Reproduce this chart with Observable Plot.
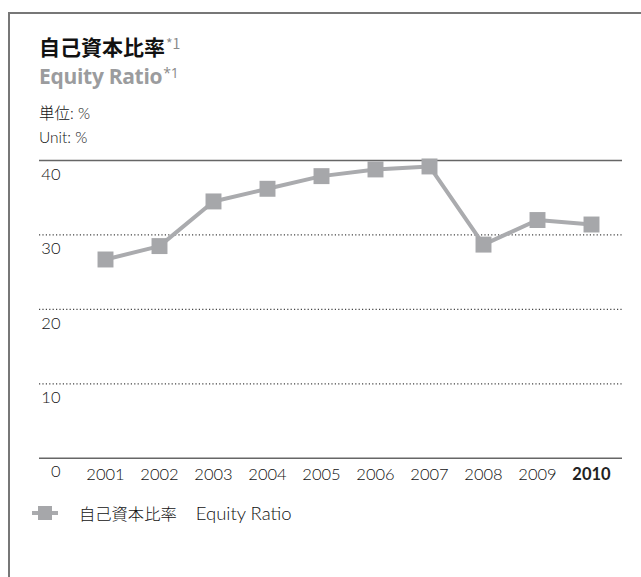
<!DOCTYPE html>
<html>
<head>
<meta charset="utf-8">
<script src="https://cdn.jsdelivr.net/npm/d3@7"></script>
<script src="https://cdn.jsdelivr.net/npm/@observablehq/plot@0.6"></script>
<style>
  html, body { margin: 0; padding: 0; background: #fff; }
  body { width: 641px; height: 577px; position: relative; overflow: hidden;
         font-family: "Lato", "Noto Sans CJK JP", sans-serif; color: #222; }
  .frame { position: absolute; left: 8px; top: 12px; right: 0; bottom: 0;
           border-left: 2px solid #777; border-top: 2px solid #777; }
  .abs { position: absolute; white-space: nowrap; }
  .t1 { left: 39px; top: 29px; font-size: 21px; font-weight: bold; color: #111; line-height: 28px;
        font-family: "Noto Sans CJK JP", sans-serif; }
  .t2 { left: 39px; top: 59px; font-size: 21px; font-weight: bold; color: #9b9c9e; line-height: 28px;
        font-family: "Open Sans", sans-serif; letter-spacing: -0.3px; }
  .sup { font-size: 14px; font-weight: normal; color: #8a8a8a; vertical-align: 6px; margin-left: 1px; }
  .u { left: 39px; font-size: 15.5px; color: #111; line-height: 20px; font-weight: 300;
       font-family: "Lato", "Noto Sans CJK JP", sans-serif; }
  .leg { left: 32px; top: 501px; height: 24px; color: #111; line-height: 24px; font-weight: 300; }
</style>
</head>
<body>
<div class="frame"></div>
<div class="abs t1">自己資本比率<span class="sup">*1</span></div>
<div class="abs t2">Equity Ratio<span class="sup">*1</span></div>
<div class="abs u" style="top:103px">単位: %</div>
<div class="abs u" style="top:127px">Unit: %</div>
<div class="abs leg" id="legend"></div>
<div id="chart"></div>
<script>
const years = [2001, 2002, 2003, 2004, 2005, 2006, 2007, 2008, 2009, 2010];
const equityRatio = [26.7, 28.5, 34.5, 36.2, 37.9, 38.8, 39.2, 28.7, 32.0, 31.4];
const yTicks = [0, 10, 20, 30, 40];
const seriesNameJa = "自己資本比率";
const seriesNameEn = "Equity Ratio";

const data = years.map((y, i) => ({year: y, value: equityRatio[i]}));
const lineColor = "#aaabae";
const markColor = "#a6a7aa";

const plot = Plot.plot({
  width: 641,
  height: 345,
  marginLeft: 39,
  marginRight: 19,
  marginTop: 10,
  marginBottom: 37,
  style: {fontFamily: "Lato, 'Open Sans', sans-serif", fontSize: "16.5px", fontWeight: 300, color: "#111", background: "transparent", overflow: "visible"},
  x: {type: "point", domain: years, range: [101.7, 594], padding: 0, align: 0.5},
  y: {domain: [0, 40], range: [307.7, 10]},
  marks: [
    Plot.ruleY([10, 20, 30], {stroke: "#444", strokeWidth: 1.2, strokeDasharray: "1.2,2.2"}),
    Plot.ruleY([0, 40], {stroke: "#666", strokeWidth: 1.5}),
    Plot.axisY(yTicks, {anchor: "left", tickSize: 0, tickPadding: 0, dx: 21, dy: 14, textAnchor: "end", fill: "#111", fontSize: 16.5, label: null}),
    Plot.axisX(years.slice(0, -1), {anchor: "bottom", tickSize: 0, tickPadding: 10, fill: "#111", fontSize: 16.5, label: null, tickFormat: d => String(d)}),
    Plot.axisX(years.slice(-1), {anchor: "bottom", tickSize: 0, tickPadding: 10, fill: "#222", fontSize: 16.5, fontWeight: "bold", label: null, tickFormat: d => String(d)}),
    Plot.line(data, {x: "year", y: "value", stroke: lineColor, strokeWidth: 4}),
    Plot.dot(data, {x: "year", y: "value", symbol: "square", r: 9, fill: markColor, stroke: "none"})
  ]
});
plot.style.position = "absolute";
plot.style.left = "0px";
plot.style.top = "150px";
document.getElementById("chart").appendChild(plot);

const leg = document.getElementById("legend");
leg.innerHTML = `<svg width="40" height="24" style="vertical-align:top;margin-right:7px">
  <line x1="0" x2="26" y1="12" y2="12" stroke="${lineColor}" stroke-width="4"></line>
  <rect x="6" y="5" width="14" height="14" fill="${markColor}"></rect></svg><span style="font-family:'Noto Sans CJK JP',sans-serif;font-weight:300;font-size:16.3px">${seriesNameJa}</span><span style="font-family:'Lato',sans-serif;font-weight:300;font-size:18.5px;margin-left:19px">${seriesNameEn}</span>`;
</script>
</body>
</html>
